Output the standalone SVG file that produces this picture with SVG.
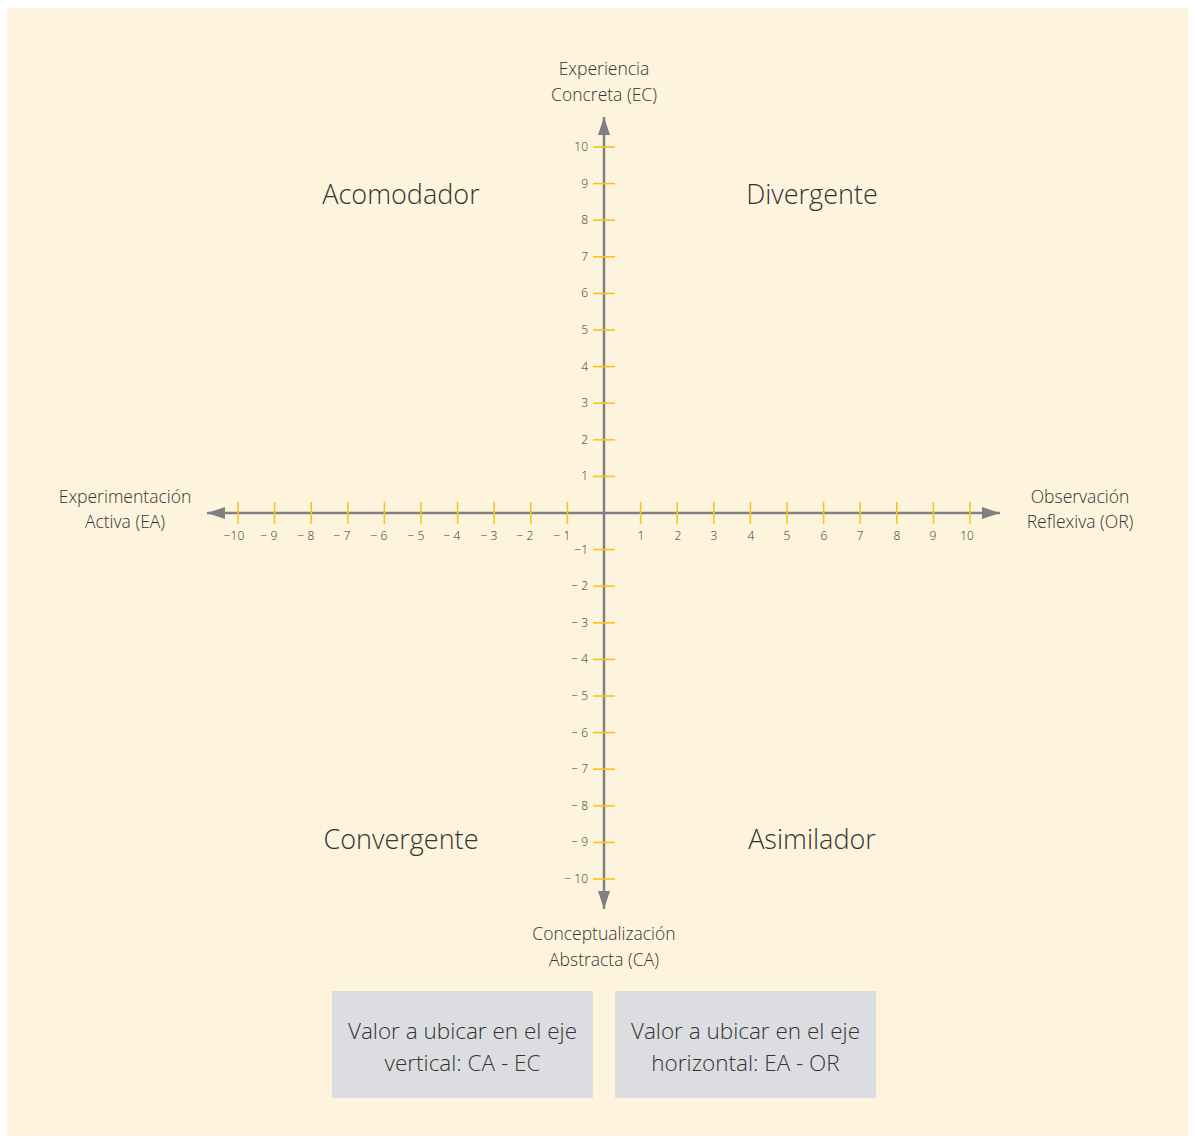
<svg xmlns="http://www.w3.org/2000/svg" width="1195" height="1143" viewBox="0 0 1195 1143">
<defs>
<style>
text{font-family:"Open Sans","Liberation Sans",sans-serif;font-weight:300;fill:#333333}
.ax{stroke:#808083;stroke-width:2.5;fill:none}
.tk{stroke:#f7c51e;stroke-width:1.6}
.tl{font-size:12px;text-anchor:middle}
.vl{font-size:12px;text-anchor:end}
.lab{font-size:17.5px;text-anchor:middle}
.q{font-size:27px;text-anchor:middle}
.bx{fill:#dcdde0}
.bt{font-size:22.5px;text-anchor:middle}
</style>
<marker id="ah" viewBox="0 0 18 12" refX="18" refY="6" markerWidth="18" markerHeight="12" markerUnits="userSpaceOnUse" orient="auto">
<path d="M0,0 L18,6 L0,12 Z" fill="#808083"/>
</marker>
</defs>
<rect x="0" y="0" width="1195" height="1143" fill="#ffffff"/>
<rect x="7" y="8" width="1181" height="1128" fill="#fef3dd"/>

<g id="connectors">
<line class="ax" x1="604" y1="513" x2="1000" y2="513" marker-end="url(#ah)"/>
<line class="ax" x1="604" y1="513" x2="207" y2="513" marker-end="url(#ah)"/>
<line class="ax" x1="604" y1="513" x2="604" y2="117" marker-end="url(#ah)"/>
<line class="ax" x1="604" y1="513" x2="604" y2="909" marker-end="url(#ah)"/>
</g>

<g id="ticks-h">
<line class="tk" x1="238" y1="502" x2="238" y2="524"/>
<line class="tk" x1="274.6" y1="502" x2="274.6" y2="524"/>
<line class="tk" x1="311.2" y1="502" x2="311.2" y2="524"/>
<line class="tk" x1="347.8" y1="502" x2="347.8" y2="524"/>
<line class="tk" x1="384.4" y1="502" x2="384.4" y2="524"/>
<line class="tk" x1="421" y1="502" x2="421" y2="524"/>
<line class="tk" x1="457.6" y1="502" x2="457.6" y2="524"/>
<line class="tk" x1="494.2" y1="502" x2="494.2" y2="524"/>
<line class="tk" x1="530.8" y1="502" x2="530.8" y2="524"/>
<line class="tk" x1="567.4" y1="502" x2="567.4" y2="524"/>
<line class="tk" x1="640.6" y1="502" x2="640.6" y2="524"/>
<line class="tk" x1="677.2" y1="502" x2="677.2" y2="524"/>
<line class="tk" x1="713.8" y1="502" x2="713.8" y2="524"/>
<line class="tk" x1="750.4" y1="502" x2="750.4" y2="524"/>
<line class="tk" x1="787" y1="502" x2="787" y2="524"/>
<line class="tk" x1="823.6" y1="502" x2="823.6" y2="524"/>
<line class="tk" x1="860.2" y1="502" x2="860.2" y2="524"/>
<line class="tk" x1="896.8" y1="502" x2="896.8" y2="524"/>
<line class="tk" x1="933.4" y1="502" x2="933.4" y2="524"/>
<line class="tk" x1="970" y1="502" x2="970" y2="524"/>
</g>
<g id="ticks-v">
<line class="tk" x1="593" y1="147" x2="615" y2="147"/>
<line class="tk" x1="593" y1="183.6" x2="615" y2="183.6"/>
<line class="tk" x1="593" y1="220.2" x2="615" y2="220.2"/>
<line class="tk" x1="593" y1="256.8" x2="615" y2="256.8"/>
<line class="tk" x1="593" y1="293.4" x2="615" y2="293.4"/>
<line class="tk" x1="593" y1="330" x2="615" y2="330"/>
<line class="tk" x1="593" y1="366.6" x2="615" y2="366.6"/>
<line class="tk" x1="593" y1="403.2" x2="615" y2="403.2"/>
<line class="tk" x1="593" y1="439.8" x2="615" y2="439.8"/>
<line class="tk" x1="593" y1="476.4" x2="615" y2="476.4"/>
<line class="tk" x1="593" y1="549.6" x2="615" y2="549.6"/>
<line class="tk" x1="593" y1="586.2" x2="615" y2="586.2"/>
<line class="tk" x1="593" y1="622.8" x2="615" y2="622.8"/>
<line class="tk" x1="593" y1="659.4" x2="615" y2="659.4"/>
<line class="tk" x1="593" y1="696" x2="615" y2="696"/>
<line class="tk" x1="593" y1="732.6" x2="615" y2="732.6"/>
<line class="tk" x1="593" y1="769.2" x2="615" y2="769.2"/>
<line class="tk" x1="593" y1="805.8" x2="615" y2="805.8"/>
<line class="tk" x1="593" y1="842.4" x2="615" y2="842.4"/>
<line class="tk" x1="593" y1="879" x2="615" y2="879"/>
</g>

<g id="labels-h">
<text class="tl" x="234" y="540">−10</text>
<text class="tl" x="269" y="540">− 9</text>
<text class="tl" x="306" y="540">− 8</text>
<text class="tl" x="342" y="540">− 7</text>
<text class="tl" x="379" y="540">− 6</text>
<text class="tl" x="416" y="540">− 5</text>
<text class="tl" x="452" y="540">− 4</text>
<text class="tl" x="489" y="540">− 3</text>
<text class="tl" x="525" y="540">− 2</text>
<text class="tl" x="562" y="540">− 1</text>
<text class="tl" x="641" y="540">1</text>
<text class="tl" x="678" y="540">2</text>
<text class="tl" x="714" y="540">3</text>
<text class="tl" x="751" y="540">4</text>
<text class="tl" x="787" y="540">5</text>
<text class="tl" x="824" y="540">6</text>
<text class="tl" x="860" y="540">7</text>
<text class="tl" x="897" y="540">8</text>
<text class="tl" x="933" y="540">9</text>
<text class="tl" x="967" y="540">10</text>
</g>
<g id="labels-v">
<text class="vl" x="588" y="151">10</text>
<text class="vl" x="588" y="188">9</text>
<text class="vl" x="588" y="224">8</text>
<text class="vl" x="588" y="261">7</text>
<text class="vl" x="588" y="297">6</text>
<text class="vl" x="588" y="334">5</text>
<text class="vl" x="588" y="371">4</text>
<text class="vl" x="588" y="407">3</text>
<text class="vl" x="588" y="444">2</text>
<text class="vl" x="588" y="480">1</text>
<text class="vl" x="588" y="554">−1</text>
<text class="vl" x="588" y="590">− 2</text>
<text class="vl" x="588" y="627">− 3</text>
<text class="vl" x="588" y="663">− 4</text>
<text class="vl" x="588" y="700">− 5</text>
<text class="vl" x="588" y="737">− 6</text>
<text class="vl" x="588" y="773">− 7</text>
<text class="vl" x="588" y="810">− 8</text>
<text class="vl" x="588" y="846">− 9</text>
<text class="vl" x="588" y="883">− 10</text>
</g>

<g id="ec"><text class="lab" x="604" y="75">Experiencia</text><text class="lab" x="604" y="101">Concreta (EC)</text></g>
<g id="ca"><text class="lab" x="604" y="940">Conceptualización</text><text class="lab" x="604" y="966">Abstracta (CA)</text></g>
<g id="ea"><text class="lab" x="125" y="503">Experimentación</text><text class="lab" x="125" y="528">Activa (EA)</text></g>
<g id="or"><text class="lab" x="1080" y="503">Observación</text><text class="lab" x="1080" y="528">Reflexiva (OR)</text></g>

<g id="acomodador"><text class="q" x="401" y="204">Acomodador</text></g>
<g id="divergente"><text class="q" x="812" y="204">Divergente</text></g>
<g id="convergente"><text class="q" x="401" y="849">Convergente</text></g>
<g id="asimilador"><text class="q" x="812" y="849">Asimilador</text></g>

<g id="box-vertical">
<rect class="bx" x="332" y="991" width="261" height="107"/>
<text class="bt" x="462.5" y="1039">Valor a ubicar en el eje</text>
<text class="bt" x="462.5" y="1071">vertical: CA - EC</text>
</g>
<g id="box-horizontal">
<rect class="bx" x="615" y="991" width="261" height="107"/>
<text class="bt" x="745.5" y="1039">Valor a ubicar en el eje</text>
<text class="bt" x="745.5" y="1071">horizontal: EA - OR</text>
</g>
</svg>
